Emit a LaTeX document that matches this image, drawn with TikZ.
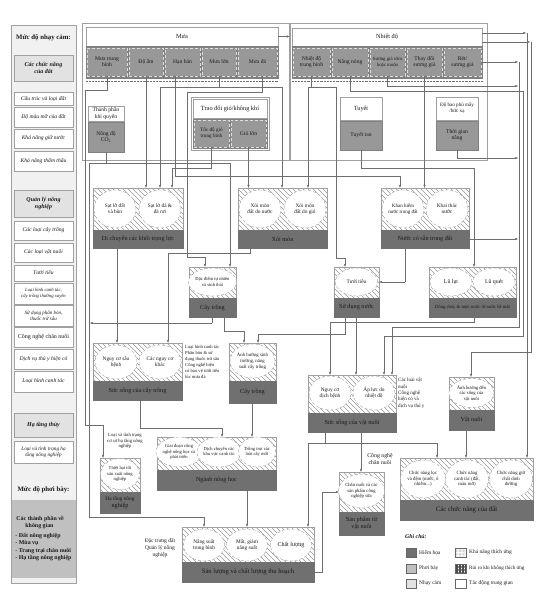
\documentclass[tikz,border=0pt]{standalone}
\usepackage{fontspec}
\setmainfont{Liberation Serif}
\usetikzlibrary{shapes.geometric,patterns.meta,arrows.meta}
\definecolor{foot}{RGB}{112,112,112}
\definecolor{hazc}{RGB}{152,152,152}
\definecolor{hazd}{RGB}{128,128,128}
\definecolor{frm}{RGB}{160,160,160}
\definecolor{lnc}{RGB}{110,110,110}
\definecolor{panel}{RGB}{241,241,241}
\definecolor{grp}{RGB}{226,226,226}
\definecolor{expo}{RGB}{192,192,192}
\definecolor{hatchc}{RGB}{150,150,150}
\definecolor{txt}{RGB}{25,25,25}
\newcommand{\mybox}[7][]{\node[rb,#1,minimum width={(#5-#3)*1pt},minimum height={(#6-#4)*1pt}] (#2) at ({(#3+#5)/2},{(#4+#6)/2}) {#7};}
\newcommand{\hzbox}[7]{%
 \begin{scope}\clip (#2,#3) rectangle (#4,#5);
 \foreach \k in {-66,-61,...,136} \draw[hatchc,line width=0.7pt] ({#2+\k},#3) -- ++(70,70);
 \end{scope}
 \node[rb,minimum width={(#4-#2)*1pt},minimum height={(#5-#3)*1pt}] (#1) at ({(#2+#4)/2},{(#3+#5)/2}) {};
 \node[ft,minimum width={(#4-#2)*1pt},minimum height={(#5-#6)*1pt}] (#1f) at ({(#2+#4)/2},{(#6+#5)/2}) {#7};}
\newcommand{\elp}[6][]{\node[el,#1,minimum width=#4pt,minimum height=#5pt] (#2) at (#3) {#6};}
\begin{document}
\begin{tikzpicture}[x=1pt,y=-1pt,
 every node/.style={text=txt},
 rb/.style={draw=frm,line width=0.4pt,inner sep=0.3pt,align=center,font=\fontsize{5.6}{6.3}\selectfont},
 hdr/.style={fill=white,font=\fontsize{6.3}{7}\selectfont},
 hz1/.style={fill=hazc,draw=white!75!gray,densely dashed},
 hzs/.style={fill=hazc,draw=hazd},
 row/.style={fill=hazd,draw=hazd},
 it/.style={fill=white,font=\itshape\fontsize{5.6}{6.3}\selectfont},
 grh/.style={fill=grp,font=\bfseries\itshape\fontsize{6}{7}\selectfont},
 ft/.style={rb,fill=foot,draw=foot,font=\fontsize{6.2}{7}\selectfont},
 el/.style={ellipse,draw=frm,densely dashed,fill=white,inner sep=0pt,align=center,font=\fontsize{5.3}{6}\selectfont},
 ln/.style={draw=lnc,line width=0.45pt},
 arr/.style={ln,-{Stealth[length=3.2pt,width=2.4pt,fill=black!80]}},
 tx/.style={align=center,inner sep=0pt,font=\fontsize{5.5}{6.4}\selectfont},
 lgt/.style={anchor=west,inner sep=0pt,font=\fontsize{5.4}{6}\selectfont}
]
\useasboundingbox (0,0) rectangle (556,605);

% ---------- left panel ----------
\mybox[fill=panel]{lp}{11}{25}{76}{583}{}
\node[font=\bfseries\fontsize{6.8}{8}\selectfont] (t1) at (43.5,38) {Mức độ nhạy cảm:};
\mybox[grh]{g1}{14}{55}{73}{81}{Các chức năng\\của đất}
\mybox[it]{s1}{14}{92}{73}{105}{Cấu trúc và loại đất}
\mybox[it]{s2}{14}{107}{73}{127}{Độ màu mỡ của đất}
\mybox[it]{s3}{14}{129}{73}{148}{Khả năng giữ nước}
\mybox[it]{s4}{14}{151}{73}{171}{Khả năng thẩm thấu}
\mybox[grh]{g2}{14}{190}{73}{217}{Quản lý nông\\nghiệp}
\mybox[it]{q1}{14}{221}{73}{240}{Các loại cây trồng}
\mybox[it]{q2}{14}{243}{73}{262}{Các loại vật nuôi}
\mybox[it]{q3}{14}{265}{73}{281}{Tưới tiêu}
\mybox[it,font=\itshape\fontsize{4.7}{5.6}\selectfont]{q4}{14}{283}{73}{304}{Loại hình canh tác,\\cây trồng thường xuyên}
\mybox[it,font=\itshape\fontsize{5}{5.8}\selectfont]{q5}{14}{305}{73}{326}{Sử dụng phân bón,\\thuốc trừ sâu}
\mybox[it,font=\fontsize{6}{6.8}\selectfont]{q6}{14}{327}{73}{347}{Công nghệ chăn nuôi}
\mybox[it]{q7}{14}{349}{73}{369}{Dịch vụ thú y hiện có}
\mybox[it]{q8}{14}{371}{73}{392}{Loại hình canh tác}
\mybox[grh]{g3}{14}{413}{73}{437}{Hạ tầng thủy}
\mybox[it,font=\itshape\fontsize{5.2}{6}\selectfont]{h1}{14}{441}{73}{463}{Loại và tình trạng hạ\\tầng nông nghiệp}
\node[font=\bfseries\fontsize{6.8}{8}\selectfont] (t2) at (43.5,490) {Mức độ phơi bày:};
\mybox[fill=expo,draw=expo,align=left,font=\bfseries\fontsize{5.9}{7.4}\selectfont]{ex}{12}{500}{75}{577}{\hspace*{1pt}Các thành phần về\\\hspace*{10pt}không gian\\[2pt]- Đất nông nghiệp\\- Mùa vụ\\- Trang trại chăn nuôi\\- Hạ tầng nông nghiệp}

% ---------- top: Mua ----------
\mybox[fill=none]{mfr}{82}{23}{289}{160}{}
\mybox[hdr]{mua}{86}{27}{278}{46}{Mưa}
\mybox[row]{muarow}{86}{46}{278}{78}{}
\mybox[hz1]{mtb}{87}{48}{127}{76}{Mưa trung\\bình}
\mybox[hz1]{dam}{129}{48}{163}{76}{Độ ẩm}
\mybox[hz1]{hhan}{165}{48}{200}{76}{Hạn hán}
\mybox[hz1]{mluon}{202}{48}{236}{76}{Mưa lớn}
\mybox[hz1]{mda}{238}{48}{277}{76}{Mưa đá}
\mybox[hdr,font=\fontsize{5.6}{6.4}\selectfont]{tpkq}{88}{106}{124}{121}{Thành phần\\khí quyển}
\mybox[hzs]{co2}{88}{122}{124}{152}{Nồng độ\\CO\textsubscript{2}}
\mybox[fill=none]{tdfr}{191}{97}{269}{150}{}
\mybox[hdr]{tdk}{193}{99}{267}{118}{Trao đổi gió/không khí}
\mybox[row]{tdrow}{193}{119}{267}{148}{}
\mybox[hz1,font=\fontsize{5.2}{6}\selectfont]{tdg}{194}{120}{229}{147}{Tốc độ gió\\trung bình}
\mybox[hz1]{glon}{231}{120}{266}{147}{Gió lớn}

% ---------- top: Nhiet do ----------
\mybox[fill=none]{nfr}{290}{23}{487}{160}{}
\mybox[hdr]{nd}{292}{28}{482}{46}{Nhiệt độ}
\mybox[row]{ndrow}{292}{46}{482}{78}{}
\mybox[hz1]{ndtb}{293}{48}{330}{76}{Nhiệt độ\\trung bình}
\mybox[hz1]{nang}{332}{48}{368}{76}{Nắng nóng}
\mybox[hz1,font=\fontsize{4.8}{5.8}\selectfont]{sgsm}{370}{48}{405}{76}{Sương giá sớm\\hoặc muộn}
\mybox[hz1]{tdsg}{407}{48}{442}{76}{Thay đổi\\sương giá}
\mybox[hz1]{ret}{444}{48}{481}{76}{Rét/\\sương giá}
\mybox[hdr]{tuyet}{340}{97}{382}{120}{Tuyết}
\mybox[hzs]{tt}{340}{121}{382}{150}{Tuyết tan}
\mybox[hdr,font=\fontsize{5.1}{6}\selectfont]{dbp}{436}{97}{478}{120}{Độ bao phủ mây\\/bức xạ}
\mybox[hzs]{tgn}{436}{121}{478}{150}{Thời gian\\nắng}

% ---------- row 1 ----------
\hzbox{dc}{93}{188}{183}{248}{230}{Di chuyển các khối trọng lực}
\elp{e1}{115,209}{42}{38}{Sạt lở đất\\và bùn}
\elp{e2}{160,209}{42}{38}{Sạt lở đá \&\\đá rơi}
\hzbox{xm}{238}{188}{327}{248}{230}{Xói mòn}
\elp{e3}{260,209}{42}{38}{Xói mòn\\đất do nước}
\elp{e4}{305,209}{42}{38}{Xói mòn\\đất do gió}
\hzbox{nc}{381}{188}{469}{248}{230}{Nước có sẵn trong đất}
\elp[font=\fontsize{5}{5.8}\selectfont]{e5}{403,209}{42}{38}{Khan hiếm\\nước trong đất}
\elp{e6}{447,209}{42}{38}{Khai thác\\nước}

% ---------- row 2 ----------
\hzbox{ct1}{189}{267}{236}{317}{298}{Cây trồng}
\elp[font=\fontsize{4.6}{5.4}\selectfont]{e7}{212.5,282}{45}{28}{Đặc điểm tự nhiên\\và sinh thái}
\hzbox{sdn}{334}{267}{379}{317}{298}{Sử dụng nước}
\elp{e8}{356.5,282}{42}{28}{Tưới tiêu}
\hzbox{dch}{429}{267}{516}{317}{298}{\fontsize{4.7}{5.4}\selectfont Dòng chảy \& mực nước từ nước bề mặt}
\elp[font=\fontsize{5.8}{6.5}\selectfont]{e9}{451,282}{42}{28}{Lũ lụt}
\elp[font=\fontsize{5.8}{6.5}\selectfont]{e10}{494,282}{42}{28}{Lũ quét}

% ---------- row 3 ----------
\hzbox{ssct}{93}{343}{182}{400}{381}{Sức sống của cây trồng}
\elp{e11}{116,362}{42}{34}{Nguy cơ sâu\\bệnh}
\elp{e12}{160,362}{42}{34}{Các nguy cơ\\khác}
\node[anchor=north west,align=left,inner sep=0pt,font=\fontsize{4.6}{6.1}\selectfont] (txt1) at (185,345) {Loại hình canh tác\\Phân bón \& sử\\dụng thuốc trừ sâu\\Công nghệ hiện\\có bảo vệ tưới tiêu\\lúc mưa đá};
\hzbox{ct2}{229}{343}{276}{403}{381}{Cây trồng}
\elp[font=\fontsize{4.8}{5.6}\selectfont]{e13}{252.5,361}{45}{34}{Ảnh hưởng sinh\\trưởng, năng\\suất cây trồng}
\hzbox{ssvn}{308}{375}{396}{432}{413}{Sức sống của vật nuôi}
\elp{e14}{330,393}{42}{34}{Nguy cơ\\dịch bệnh}
\elp{e15}{374,393}{42}{34}{Áp lực do\\nhiệt độ}
\node[anchor=north west,align=left,inner sep=0pt,font=\fontsize{5}{6.4}\selectfont] (txt2) at (398,378) {Các loài vật\\nuôi\\Công nghệ\\hiện có và\\dịch vụ thú y};
\hzbox{vn}{449}{377}{494}{430}{410}{Vật nuôi}
\elp[font=\fontsize{4.7}{5.5}\selectfont]{e16}{471.5,393}{45}{29}{Ảnh hưởng đến\\các sống của\\vật nuôi}

% ---------- row 4 ----------
\node[tx,font=\fontsize{4.7}{5.6}\selectfont] (txt3) at (125,441) {Loại và tình trạng\\cơ sở hạ tầng nông\\nghiệp};
\hzbox{htnn}{100}{458}{140}{513}{492}{\fontsize{5.4}{6.2}\selectfont Hạ tầng nông\\nghiệp}
\elp[font=\fontsize{4.6}{5.4}\selectfont]{e17}{120,474}{39}{31}{Thiệt hại tới\\sản xuất nông\\nghiệp}
\hzbox{nnh}{157}{437}{276}{490}{470}{Ngành nông học}
\elp[font=\fontsize{4.6}{5.4}\selectfont]{e18}{179,452}{43}{30}{Giai đoạn công\\nghệ nông học và\\phát triển}
\elp[font=\fontsize{4.6}{5.4}\selectfont]{e19}{219,452}{40}{30}{Dịch chuyển các\\khu vực canh tác}
\elp[font=\fontsize{4.6}{5.4}\selectfont]{e20}{257,452}{37}{30}{Trồng trọt các\\loài cây mới}
\node[tx,font=\fontsize{5.8}{6.8}\selectfont] (txt4) at (380,459) {Công nghệ\\chăn nuôi};
\hzbox{spvn}{339}{472}{384}{535}{512}{Sản phẩm từ\\vật nuôi}
\elp[font=\fontsize{4.7}{5.5}\selectfont]{e21}{361.5,491}{45}{34}{Chăn nuôi và các\\sản phẩm công\\nghiệp sữa}
\hzbox{ccnd}{400}{458}{533}{520}{500}{\fontsize{6.8}{7.6}\selectfont Các chức năng của đất}
\elp[font=\fontsize{4.8}{5.6}\selectfont]{e22}{423,479}{45}{38}{Chức năng lọc\\và đệm (nước, ô\\nhiễm...)}
\elp[font=\fontsize{4.8}{5.6}\selectfont]{e23}{467,479}{43}{38}{Chức năng\\canh tác (đất,\\màu mỡ)}
\elp[font=\fontsize{4.8}{5.6}\selectfont]{e24}{511,479}{43}{38}{Chức năng giữ\\chất dinh\\dưỡng}
\node[tx,font=\fontsize{5.5}{6.6}\selectfont] (txt5) at (160,548) {Đặc trưng đất\\Quản lý nông\\nghiệp};
\hzbox{slcl}{182}{527}{314}{582}{562}{\fontsize{6.6}{7.4}\selectfont Sản lượng và chất lượng thu hoạch}
\elp{e25}{204,545}{41}{32}{Năng suất\\trung bình}
\elp{e26}{247,545}{41}{32}{Mất, giảm\\năng suất}
\elp[font=\fontsize{6}{7}\selectfont]{e27}{291,545}{41}{32}{Chất lượng}

% ---------- legend ----------
\node[anchor=west,inner sep=0pt,font=\bfseries\itshape\fontsize{5.8}{6.6}\selectfont] (lg) at (405,537) {Ghi chú:};
\mybox[fill=foot,draw=black!60]{sw1}{406}{548}{416}{557}{}
\node[lgt] (l1) at (419,552.5) {Hiểm họa};
\mybox[fill=expo,draw=black!60]{sw2}{406}{564}{416}{573}{}
\node[lgt] (l2) at (419,568.5) {Phơi bày};
\mybox[fill=grp,draw=black!60]{sw3}{406}{579}{416}{588}{}
\node[lgt] (l3) at (419,583.5) {Nhạy cảm};
\mybox[pattern={Dots[distance=1.4pt,radius=0.3pt]},pattern color=black!55,draw=black!60]{sw4}{455}{548}{466}{557}{}
\node[lgt] (l4) at (469,552.5) {Khả năng thích ứng};
\mybox[pattern={Hatch[distance=1.5pt,line width=0.35pt]},pattern color=black!70,draw=black!60]{sw5}{455}{564}{466}{573}{}
\node[lgt,font=\fontsize{5.1}{6}\selectfont] (l5) at (469,568.5) {Rủi ro khi không thích ứng};
\mybox[fill=white,draw=black!60]{sw6}{455}{579}{466}{588}{}
\node[lgt] (l6) at (469,583.5) {Tác động trung gian};

% ---------- connectors: top ----------
\draw[ln,densely dotted] (86,81) -- (278,81);
\draw[ln,densely dotted] (292,81) -- (482,81);
\draw[arr] (mua.east) -- (mua.east -| nfr.west);
\draw[arr] (nd.east |- 0,33) -- (526,33);
\draw[arr] (nd.east |- 0,42) -- (530,42);
\draw[arr] (ret.east) -- (518,62);
\draw[arr] (527,33) -- (ccnd.north -| 527,0);
\draw[ln] (531,42) -- (531,352) -- (471,352);
\draw[arr] (471,352) -- (vn.north -| 471,0);
\draw[ln] (519,62) -- (519,327) -- (392,327);
\draw[arr] (392,327) -- (ssvn.north -| 392,0);
\draw[ln] (nang.south) -- (350,91) -- (523,91) -- (523,336) -- (384,336);
\draw[arr] (384,336) -- (ssvn.north -| 384,0);
\draw[arr] (sgsm.south) |- (518,86);
\draw[arr] (tdsg.south) -- (tdsg.south |- nc.north);
\draw[arr] (dam.south) -- (dam.south |- dc.north);
\draw[ln] (mluon.south) -- (mluon.south |- 0,87);
\draw[ln] (160,87) -- (282,87);
\draw[arr] (160,87) -- (dc.north -| 160,0);
\draw[arr] (282,87) -- (xm.north -| 282,0);
\draw[ln] (175,76) -- (175,176) -- (400,176);
\draw[arr] (400,176) -- (nc.north -| 400,0);
\draw[ln] (262,76) -- (262,92) -- (187,92) -- (187,257) -- (205,257);
\draw[arr] (205,257) -- (ct1.north -| 205,0);
\draw[arr] (glon.south) -- (glon.south |- xm.north);
\draw[ln] (tdg.south) -- (211.5,168) -- (172,168);
\draw[arr] (172,168) -- (dc.north -| 172,0);
\draw[ln] (co2.south) -- (106,163);
\draw[ln] (89,163) -- (230,163);
\draw[arr] (230,163) -- (ct1.north -| 230,0);
\draw[ln] (89,163) -- (89,517) -- (204,517);
\draw[arr] (204,517) -- (slcl.north -| 204,0);
\draw[ln] (mtb.south) -- (107,90) -- (85,90) -- (85,425) -- (103,425);
\draw[arr] (103,425) -- (htnn.north -| 103,0);
\draw[ln] (ndtb.south) -- (311.5,87);
\draw[ln] (308,87) -- (336,87) -- (336,258) -- (345,258);
\draw[arr] (308,87) -- (xm.north -| 308,0);
\draw[arr] (345,258) -- (sdn.north -| 345,0);
\draw[ln] (tt.south) -- (361,168) -- (474,168);
\draw[arr] (474,168) -- (dch.north -| 474,0);
\draw[arr] (tgn.south) |- (518,158);

% ---------- connectors: rows ----------
\draw[arr] (dcf.south -| 117,0) -- (ssct.north -| 117,0);
\draw[ln] (xmf.south -| 250,0) -- (250,253) -- (168,253);
\draw[arr] (168,253) -- (ssct.north -| 168,0);
\draw[ln] (ncf.south -| 405,0) -- (405,282);
\draw[arr] (405,282) -- (sdn.east |- 0,282);
\draw[arr] (ncf.east) -- (518,239);
\draw[ln] (ct1f.south -| 212,0) -- (212,323);
\draw[arr] (212,323) -- (90,323);
\draw[ln] (ct1f.south -| 224,0) -- (224,331) -- (244,331);
\draw[arr] (244,331) -- (ct2.north -| 244,0);
\draw[ln] (sdnf.south -| 345,0) -- (345,334) -- (258,334);
\draw[arr] (258,334) -- (ct2.north -| 258,0);
\draw[arr] (sdnf.south -| 356,0) -- (ssvn.north -| 356,0);
\draw[ln] (dchf.south -| 474,0) -- (474,322) -- (330,322);
\draw[arr] (330,322) -- (ssvn.north -| 330,0);
\draw[ln] (ssctf.south -| 140,0) -- (140,428) -- (222,428);
\draw[arr] (222,428) -- (nnh.north -| 222,0);
\draw[arr] (ct2f.south -| 252,0) -- (nnh.north -| 252,0);
\draw[arr] (nnhf.south -| 247,0) -- (slcl.north -| 247,0);
\draw[arr] (ssvnf.south -| 361,0) -- (spvn.north -| 361,0);
\draw[ln] (ssvnf.south -| 325,0) -- (325,443);
\draw[ln] (308,443) -- (437,443);
\draw[arr] (308,443) -- (slcl.north -| 308,0);
\draw[arr] (437,443) -- (ccnd.north -| 437,0);
\draw[arr] (vnf.south -| 466,0) -- (ccnd.north -| 466,0);
\draw[ln] (slclf.east) -- (322,572) -- (322,492);
\draw[arr] (322,492) -- (spvn.west |- 0,492);
\end{tikzpicture}
\end{document}
